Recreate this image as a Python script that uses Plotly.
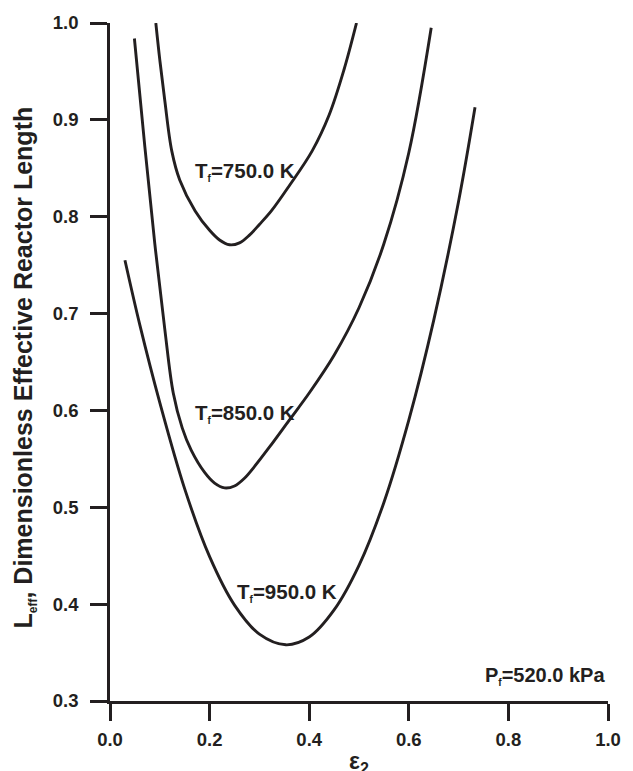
import plotly.graph_objects as go

# Data
x750 = [0.092, 0.10, 0.11, 0.124, 0.14, 0.171, 0.20, 0.22, 0.24, 0.26, 0.28, 0.30, 0.324, 0.36, 0.406, 0.44, 0.47, 0.495]
y750 = [1.0, 0.962, 0.92, 0.868, 0.838, 0.806, 0.786, 0.776, 0.771, 0.773, 0.781, 0.792, 0.806, 0.832, 0.868, 0.905, 0.952, 1.0]

x850 = [0.049, 0.07, 0.09, 0.11, 0.127, 0.145, 0.163, 0.19, 0.21, 0.23, 0.25, 0.27, 0.29, 0.32, 0.36, 0.40, 0.45, 0.50, 0.55, 0.60, 0.645]
y850 = [0.984, 0.872, 0.772, 0.684, 0.618, 0.582, 0.559, 0.536, 0.525, 0.52, 0.522, 0.53, 0.542, 0.562, 0.59, 0.618, 0.657, 0.706, 0.772, 0.866, 0.995]

x950 = [0.03, 0.06, 0.10, 0.15, 0.20, 0.25, 0.30, 0.353, 0.40, 0.45, 0.50, 0.55, 0.60, 0.65, 0.70, 0.733]
y950 = [0.755, 0.688, 0.608, 0.519, 0.449, 0.399, 0.369, 0.358, 0.366, 0.394, 0.44, 0.505, 0.59, 0.693, 0.816, 0.913]

labels = ["750.0", "850.0", "950.0"]
label_x = [0.272, 0.272, 0.355]
label_y = [0.847, 0.597, 0.412]

xticks = [0.0, 0.2, 0.4, 0.6, 0.8, 1.0]
yticks = [0.3, 0.4, 0.5, 0.6, 0.7, 0.8, 0.9, 1.0]

FONT = "Arial, Liberation Sans, Helvetica, sans-serif"
INK = "#231f20"
SUBF = '<sub><span style="font-size:10px">f</span></sub>'

fig = go.Figure()
for xs, ys in [(x750, y750), (x850, y850), (x950, y950)]:
    fig.add_trace(go.Scatter(x=xs, y=ys, mode="lines",
                             line=dict(color=INK, width=2.9, shape="spline", smoothing=1.0),
                             showlegend=False, hoverinfo="skip"))

for t, lx, ly in zip(labels, label_x, label_y):
    fig.add_annotation(x=lx, y=ly, xref="x", yref="y", text="<b>T" + SUBF + "=" + t + " K</b>",
                       showarrow=False, font=dict(family=FONT, size=20.5, color=INK),
                       xanchor="center", yanchor="middle")

fig.add_annotation(x=0.998, y=0.326, xref="x", yref="y", text="<b>P" + SUBF + "=520.0 kPa</b>",
                   showarrow=False, font=dict(family=FONT, size=20, color=INK),
                   xanchor="right", yanchor="middle")

fig.add_annotation(x=0.5, y=-0.0913, xref="paper", yref="paper", text="<b>ε<sub>2</sub></b>",
                   showarrow=False, font=dict(family=FONT, size=23, color=INK),
                   xanchor="center", yanchor="middle")

fig.add_annotation(x=-0.1725, y=0.492, xref="paper", yref="paper",
                   text='<b>L<sub><span style="font-size:12px">eff</span></sub>, Dimensionless Effective Reactor Length</b>',
                   showarrow=False, textangle=-90, font=dict(family=FONT, size=25, color=INK),
                   xanchor="center", yanchor="middle")

axis_common = dict(showgrid=False, zeroline=False, showline=True, linecolor=INK, linewidth=2.5,
                   ticks="outside", ticklen=17, tickwidth=2.5, tickcolor=INK,
                   tickfont=dict(family=FONT, size=18.5, color=INK, weight="bold"),
                   tickformat=".1f")

fig.update_xaxes(range=[0, 1.0], tickvals=xticks, ticklabelstandoff=3, **axis_common)
fig.update_yaxes(range=[0.3, 1.0], tickvals=yticks, ticklabelstandoff=8, **axis_common)

fig.update_layout(width=633, height=771, margin=dict(l=110, r=13, t=22, b=70),
                  plot_bgcolor="white", paper_bgcolor="white")

fig.write_html("out.html")
